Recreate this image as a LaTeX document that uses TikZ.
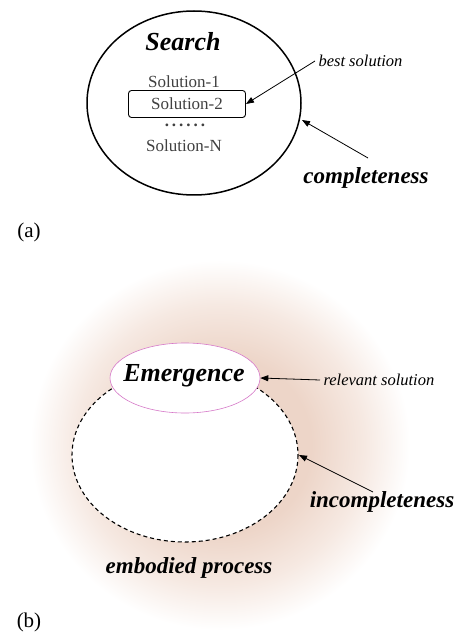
\documentclass[tikz,border=0pt]{standalone}
\usepackage{fontspec}
\setmainfont{Liberation Serif}
\usetikzlibrary{arrows.meta,shapes.geometric}
\definecolor{glowc}{RGB}{237,213,200}
\definecolor{glowm}{RGB}{246,233,226}
\definecolor{pinkline}{RGB}{214,120,200}
\pgfdeclareradialshading{glow}{\pgfpoint{0bp}{0bp}}{color(0bp)=(glowc); color(12bp)=(glowc); color(19bp)=(glowm); color(25bp)=(white); color(50bp)=(white)}
\begin{document}
\begin{tikzpicture}[x=1pt,y=-1pt,
  bigtitle/.style={font=\fontsize{26}{28}\selectfont\bfseries\itshape},
  lbl/.style={font=\fontsize{23}{25}\selectfont\bfseries\itshape},
  small/.style={font=\fontsize{16.5}{18}\selectfont\itshape},
  soltext/.style={font=\fontsize{17}{19}\selectfont, text=black!75},
  arr/.style={-{Triangle[length=8pt,width=6pt]}, line width=0.8pt},
  panel/.style={font=\fontsize{21}{23}\selectfont}]
\useasboundingbox (0,0) rectangle (460,636);
\fill[white] (0,0) rectangle (460,636);
% ---------- (a) ----------
\draw[line width=1.5pt] (194,103) ellipse [x radius=107, y radius=92];
\node[bigtitle] (search) at (183,42) {Search};
\node[soltext] (s1) at (184,82) {Solution-1};
\node[soltext, draw=black, rounded corners=3pt, minimum width=117pt, minimum height=27pt, inner sep=1pt, line width=0.9pt] (s2) at (187,104) {Solution-2};
\node[soltext, inner sep=0pt, text height=3pt, text depth=0pt] (dots) at (185,125) {\textbf{.\hspace{3pt}.\hspace{3pt}.\hspace{3pt}.\hspace{3pt}.\hspace{3pt}.}};
\node[soltext] (sn) at (184,146) {Solution-N};
\node[small, anchor=west] (best) at (315,61) {best solution};
\draw[arr] (best.west) -- (s2.east);
\node[lbl] (compl) at (366,178) {completeness};
\coordinate (aedge) at (302,120);
\draw[arr] (368,158) -- (aedge);
\node[panel] (pa) at (29,232) {(a)};
% ---------- (b) ----------
\shade[shading=glow] (220,445) ellipse [x radius=190, y radius=185];
\fill[white] (185,455) ellipse [x radius=113, y radius=87];
\draw[dashed, line width=1.1pt, dash pattern=on 4pt off 3pt] (185,455) ellipse [x radius=113, y radius=87];
\node[draw=pinkline, fill=white, ellipse, line width=0.6pt, minimum width=150pt, minimum height=70pt, inner sep=0pt] (emer) at (185,378) {};
\node[bigtitle] (emtext) at (184,376) {Emergence};
\node[small, anchor=west] (relv) at (320,380) {relevant solution};
\draw[arr] (relv.west) -- (emer.east);
\node[lbl] (incompl) at (382,502) {incompleteness};
\coordinate (bedge) at (299,455);
\draw[arr] (373,492) -- (bedge);
\node[lbl] (embod) at (189,568) {embodied process};
\node[panel] (pb) at (29,622) {(b)};
\end{tikzpicture}
\end{document}
